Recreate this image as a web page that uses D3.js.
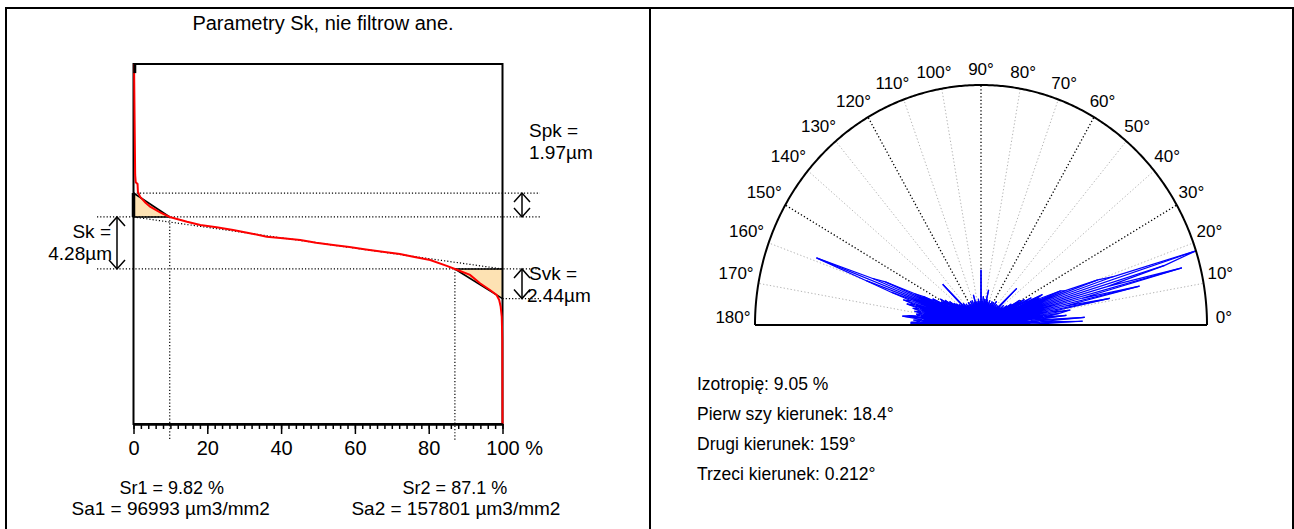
<!DOCTYPE html>
<html><head><meta charset="utf-8">
<script src="https://cdn.jsdelivr.net/npm/d3@7"></script>
<style>
body{margin:0;background:#fff}
svg{display:block}
text{font-family:"Liberation Sans",Arial,sans-serif;fill:#000}
</style>
</head><body>
<svg id="c" width="1294" height="529"></svg>
<script>
// ---------- DATA ----------
const chartTitle = "Parametry Sk, nie filtrow ane.";
const xTickValues = [0, 20, 40, 60, 80, 100];
const xMinorStep = 2;
// Abbott-Firestone (material ratio) curve: ratio %, height µm
const curveRatio  = [0.15, 0.3, 0.45, 0.6, 1.1, 1.2, 1.8, 3.2, 4.5, 7.2, 9.82, 14.5, 18.1, 22.5, 27.0, 31.5, 36.1, 40.5, 45.2, 49.5, 54.1, 58.5, 63.0, 67.5, 72.2, 75.8, 80.4, 84.9, 87.1, 91.2, 93.9, 96.6, 98.4, 99.1, 99.5, 99.8, 99.95, 100];
const curveHeight = [14.73, 10.1, 5.6, 5.0, 4.85, 4.2, 3.8, 3.33, 2.99, 2.51, 2.14, 1.75, 1.48, 1.3, 1.07, 0.8, 0.52, 0.38, 0.25, 0.02, -0.16, -0.33, -0.53, -0.72, -0.9, -1.13, -1.4, -1.89, -2.14, -2.63, -3.32, -3.87, -4.28, -4.69, -5.24, -6.07, -8.0, -14.9];
const heightDomain = [-14.9, 14.73];
const Sk = 4.28, Spk = 1.97, Svk = 2.44, Sr1 = 9.82, Sr2 = 87.1;
const Sa1 = 96993, Sa2 = 157801;
// polar rose (one value per degree, 0..180)
const angleLabels = [0, 10, 20, 30, 40, 50, 60, 70, 80, 90, 100, 110, 120, 130, 140, 150, 160, 170, 180];
const majorGridAngles = [30, 60, 90, 120, 150];
const roseValues = [60, 22, 45, 26, 46, 22, 38, 28, 35, 40,
  30, 58, 38, 72, 46, 92, 58, 85, 100, 62,
  55, 40, 38, 28, 27, 30, 18, 25, 14, 22,
  14, 20, 12, 16, 10, 14, 9, 12, 8, 13,
  7, 11, 8, 12, 22, 9, 7, 11, 6, 10,
  7, 11, 6, 9, 7, 12, 6, 10, 7, 11,
  6, 9, 7, 11, 6, 10, 7, 9, 6, 11,
  7, 9, 6, 10, 7, 11, 6, 15, 7, 10,
  6, 11, 7, 9, 6, 12, 7, 10, 6, 9,
  23, 7, 10, 6, 9, 7, 11, 6, 10, 7,
  9, 6, 10, 7, 9, 13, 6, 10, 7, 9,
  6, 11, 7, 9, 6, 11, 7, 9, 6, 10,
  7, 11, 6, 9, 7, 10, 8, 11, 7, 10,
  8, 12, 8, 11, 9, 24, 9, 12, 8, 13,
  10, 14, 9, 15, 11, 17, 12, 19, 14, 21,
  16, 20, 18, 24, 22, 28, 32, 46, 52, 78,
  54, 42, 32, 36, 30, 34, 28, 31, 27, 30,
  26, 29, 27, 32, 35, 26, 30, 27, 31, 31,
  25];
const infoLines = ["Izotropię: 9.05 %", "Pierw szy kierunek: 18.4°", "Drugi kierunek: 159°", "Trzeci kierunek: 0.212°"];

// ---------- FRAME ----------
const svg = d3.select("#c");
svg.append("rect").attr("x", 6).attr("y", 8).attr("width", 1287).attr("height", 540)
  .attr("fill", "none").attr("stroke", "#000").attr("stroke-width", 2);
svg.append("line").attr("x1", 650).attr("x2", 650).attr("y1", 8).attr("y2", 529)
  .attr("stroke", "#000").attr("stroke-width", 2);

// ---------- LEFT: Sk chart ----------
const x = d3.scaleLinear().domain([0, 100]).range([133.5, 502.5]);
const y = d3.scaleLinear().domain(heightDomain).range([424, 64]);
const L = svg.append("g");

svg.append("text").attr("x", 323).attr("y", 30).attr("text-anchor", "middle")
  .style("font-size", "20px").text(chartTitle);

const zU = Sk / 2, zL = -Sk / 2, zP = zU + Spk, zV = zL - Svk;
const line = d3.line().x(d => x(d[0])).y(d => y(d[1]));
const fillCol = "#fde2b3";

L.append("path").attr("d", line([[0, zP], [0, zU], [Sr1, zU]]) + "Z").attr("fill", fillCol);
L.append("path").attr("d", line([[Sr2, zL], [100, zL], [100, zV]]) + "Z").attr("fill", fillCol);

function dotted(x1, y1, x2, y2) {
  L.append("line").attr("x1", x1).attr("y1", y1).attr("x2", x2).attr("y2", y2)
    .attr("stroke", "#000").attr("stroke-width", 1.2).attr("stroke-dasharray", "1.2,2");
}
dotted(x(0), y(zP), 540, y(zP));
dotted(97, y(zU), 540, y(zU));
dotted(97, y(zL), 540, y(zL));
dotted(x(100), y(zV), 540, y(zV));
dotted(x(Sr1), y(zU), x(Sr1), 440);
dotted(x(Sr2), y(zL), x(Sr2), 440);
dotted(x(0), y(zU), x(100), y(zL));

function solid(pts, w) {
  L.append("path").attr("d", line(pts)).attr("fill", "none").attr("stroke", "#000").attr("stroke-width", w);
}
solid([[0, zP], [Sr1, zU]], 1.6);
solid([[0, zU], [Sr1, zU]], 1.4);
solid([[Sr2, zL], [100, zL]], 1.6);
solid([[Sr2, zL], [100, zV]], 1.6);

L.append("rect").attr("x", x(0)).attr("y", y(heightDomain[1])).attr("width", x(100) - x(0))
  .attr("height", y(heightDomain[0]) - y(heightDomain[1])).attr("fill", "none")
  .attr("stroke", "#000").attr("stroke-width", 2);
solid([[0, zP], [0, zU]], 3.5);

const curve = curveRatio.map((r, i) => [r, curveHeight[i]]);
L.append("path").attr("d", line(curve)).attr("fill", "none").attr("stroke", "#ff0000").attr("stroke-width", 2);
solid([[curveRatio[0] + 0.2, heightDomain[1]], [curveRatio[0] + 0.2, heightDomain[1] - 0.75]], 3);

const minor = d3.range(0, 100 + 0.001, xMinorStep);
const gMinor = L.append("g").attr("transform", `translate(0,${y(heightDomain[0])})`)
  .call(d3.axisBottom(x).tickValues(minor).tickSize(5).tickSizeOuter(0).tickFormat(""));
const gMajor = L.append("g").attr("transform", `translate(0,${y(heightDomain[0])})`)
  .call(d3.axisBottom(x).tickValues(xTickValues).tickSize(10).tickSizeOuter(0).tickPadding(7));
[gMinor, gMajor].forEach(g => {
  g.select(".domain").attr("stroke-width", 2);
  g.selectAll(".tick line").attr("stroke-width", 1.5);
});
gMajor.selectAll(".tick text").style("font-size", "20px").style("font-family", '"Liberation Sans",Arial,sans-serif')
  .attr("fill", "#000").attr("y", 17).attr("dy", "0.71em");
gMajor.selectAll(".tick text").filter(d => d === 100).each(function () {
  const t = d3.select(this);
  const w = this.getComputedTextLength();
  t.text("100 %").attr("text-anchor", "start").attr("x", -w / 2);
});

function dArrow(xp, y1, y2) {
  L.append("line").attr("x1", xp).attr("x2", xp).attr("y1", y1).attr("y2", y2).attr("stroke", "#000").attr("stroke-width", 1.5);
  L.append("path").attr("d", `M${xp - 8},${y1 + 9}L${xp},${y1}L${xp + 8},${y1 + 9}`).attr("fill", "none").attr("stroke", "#000").attr("stroke-width", 1.5);
  L.append("path").attr("d", `M${xp - 8},${y2 - 9}L${xp},${y2}L${xp + 8},${y2 - 9}`).attr("fill", "none").attr("stroke", "#000").attr("stroke-width", 1.5);
}
dArrow(522, y(zP), y(zU));
dArrow(117, y(zU), y(zL));
dArrow(522, y(zL), y(zV));

function label(xp, yp, txt, anchor, size) {
  L.append("text").attr("x", xp).attr("y", yp).attr("text-anchor", anchor).style("font-size", size).text(txt);
}
label(529, 137, "Spk =", "start", "19px");
label(529, 159, Spk.toFixed(2) + "µm", "start", "19px");
label(529, 280, "Svk =", "start", "19px");
label(527, 302, Svk.toFixed(2) + "µm", "start", "19px");
label(111, 238, "Sk =", "end", "19px");
label(112, 260, Sk.toFixed(2) + "µm", "end", "19px");
label(x(Sr1) + 2, 494, "Sr1 = " + Sr1 + " %", "middle", "18px");
label(x(Sr1) + 1, 515, "Sa1 = " + Sa1 + " µm3/mm2", "middle", "19px");
label(x(Sr2), 494, "Sr2 = " + Sr2 + " %", "middle", "18px");
label(x(Sr2) + 1, 515, "Sa2 = " + Sa2 + " µm3/mm2", "middle", "19px");

// ---------- RIGHT: polar rose ----------
const cx = 981, cy = 325, rx = 226, ry = 240;
const px = d3.scaleLinear().domain([-1, 1]).range([cx - rx, cx + rx]);
const py = d3.scaleLinear().domain([0, 1]).range([cy, cy - ry]);
const ang = d3.scaleLinear().domain([0, 180]).range([0, Math.PI]);
const rad = d3.scaleLinear().domain([0, 100]).range([0, 1]);
const P = svg.append("g");

angleLabels.filter(a => a > 0 && a < 180).forEach(a => {
  const major = majorGridAngles.includes(a);
  P.append("line").attr("x1", px(0)).attr("y1", py(0))
    .attr("x2", px(Math.cos(ang(a)))).attr("y2", py(Math.sin(ang(a))))
    .attr("stroke", major ? "#000" : "#b4b4b4").attr("stroke-width", major ? 1.3 : 1)
    .attr("stroke-dasharray", "1.3,2.2");
});

// rose: radial stems plus tip outline
const rosePts = roseValues.map((v, i) => [rad(v) * Math.cos(ang(i)), rad(v) * Math.sin(ang(i))]);
const stems = rosePts.map(p => `M${px(0)},${py(0)}L${px(p[0])},${py(p[1])}`).join("");
P.append("path").attr("d", stems).attr("fill", "none").attr("stroke", "#0000ff").attr("stroke-width", 1.2);
P.append("path").attr("d", d3.line().x(d => px(d[0])).y(d => py(d[1]))(rosePts))
  .attr("fill", "none").attr("stroke", "#0000ff").attr("stroke-width", 1.2);

const arcPts = d3.range(0, 180.01, 0.5).map(a => [Math.cos(ang(a)), Math.sin(ang(a))]);
P.append("path").attr("d", d3.line().x(d => px(d[0])).y(d => py(d[1]))(arcPts))
  .attr("fill", "none").attr("stroke", "#000").attr("stroke-width", 2);
P.append("line").attr("x1", px(-1)).attr("x2", px(1)).attr("y1", py(0)).attr("y2", py(0))
  .attr("stroke", "#000").attr("stroke-width", 2);

angleLabels.forEach(a => {
  const c = Math.cos(ang(a)), s = Math.sin(ang(a));
  const off = c >= 0 ? 17 : 22;
  const lx = cx + (rx + off) * c - (c < 0 ? 4 * s : 0);
  const ly = cy - (ry + 11) * s - 8 + 3 * s * s;
  P.append("text").attr("x", lx).attr("y", ly).attr("text-anchor", "middle")
    .attr("dominant-baseline", "central").style("font-size", "17px").text(a + "°");
});

infoLines.forEach((t, i) => {
  P.append("text").attr("x", 697).attr("y", 390 + i * 30).style("font-size", "17.5px").text(t);
});
</script>
</body></html>
